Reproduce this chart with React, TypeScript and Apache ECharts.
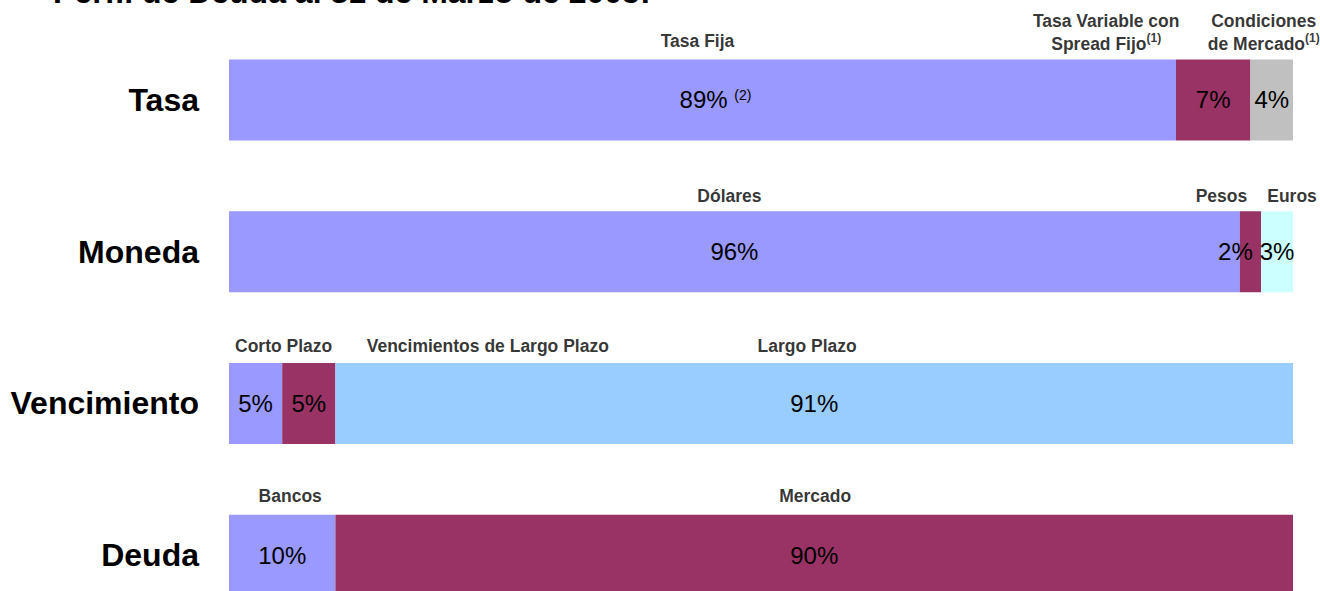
import React, { useEffect, useRef } from "react";
import * as echarts from "echarts";

const title = "Perfil de Deuda al 31 de Marzo de 2005:";
const categories = ["Tasa", "Moneda", "Vencimiento", "Deuda"];

const tasaNames = ["Tasa Fija", "Tasa Variable con\nSpread Fijo{sup|(1)}", "Condiciones\nde Mercado{sup|(1)}"];
const tasaValues = [89, 7, 4];
const tasaLabels = ["89% {psup|(2)}", "7%", "4%"];

const monedaNames = ["Dólares", "Pesos", "Euros"];
const monedaValues = [95, 2, 3];
const monedaLabels = ["96%", "2%", "3%"];

const vencNames = ["Corto Plazo", "Vencimientos de Largo Plazo", "Largo Plazo"];
const vencValues = [5, 5, 90];
const vencLabels = ["5%", "5%", "91%"];

const deudaNames = ["Bancos", "Mercado"];
const deudaValues = [10, 90];
const deudaLabels = ["10%", "90%"];

// styles
const BLUE = "#9999FF";
const PLUM = "#993366";
const rowStyles = [
  { colors: [BLUE, PLUM, "#C0C0C0"], nameDx: [-5, -107, -8], nameDy: [0, 3, 3], pctDx: [13, 0, 0] },
  { colors: [BLUE, PLUM, "#CCFFFF"], nameDx: [-5, -29, 15], nameDy: [3, 3, 3], pctDx: [0, -15, 0] },
  { colors: [BLUE, PLUM, "#99CCFF"], nameDx: [28, 179, -7], nameDy: [2, 2, 2], pctDx: [0, 0, 0] },
  { colors: [BLUE, PLUM], nameDx: [8, 1], nameDy: [0, 0], pctDx: [0, 0] },
];

const rows = [
  { names: tasaNames, values: tasaValues, labels: tasaLabels },
  { names: monedaNames, values: monedaValues, labels: monedaLabels },
  { names: vencNames, values: vencValues, labels: vencLabels },
  { names: deudaNames, values: deudaValues, labels: deudaLabels },
];

const FONT = "Liberation Sans, Arial, sans-serif";

export default function App() {
  const ref = useRef<HTMLDivElement>(null);
  useEffect(() => {
    if (!ref.current) return;
    const chart = echarts.init(ref.current, undefined, { renderer: "svg" });

    const barSeries: any[] = [0, 1, 2].map((i) => ({
      type: "bar",
      stack: "total",
      barWidth: 81,
      silent: true,
      data: rows.map((r, ri) => {
        if (r.values[i] == null) return "-";
        return {
          value: r.values[i],
          itemStyle: { color: rowStyles[ri].colors[i] },
          label: {
            show: true,
            position: "inside",
            formatter: r.labels[i],
            offset: [rowStyles[ri].pctDx[i], 0],
            color: "#000",
            fontSize: 24,
            fontFamily: FONT,
            rich: {
              psup: { fontSize: 14, color: "#000", fontFamily: FONT, verticalAlign: "top", padding: [0, 0, 10, 0] },
            },
          },
        };
      }),
    }));

    const nameData: any[] = [];
    rows.forEach((r, ri) => {
      let start = 0;
      r.values.forEach((v, i) => {
        nameData.push({
          value: [start + v / 2, categories[ri]],
          label: { formatter: r.names[i], offset: [rowStyles[ri].nameDx[i], rowStyles[ri].nameDy[i]] },
        });
        start += v;
      });
    });

    const scatter = {
      type: "scatter",
      symbolSize: 1,
      silent: true,
      itemStyle: { color: "rgba(0,0,0,0)" },
      data: nameData,
      label: {
        show: true,
        position: "top",
        distance: 47,
        color: "#000",
        fontSize: 17.5,
        fontWeight: "bold",
        fontFamily: FONT,
        lineHeight: 23,
        align: "center",
        rich: {
          sup: { fontSize: 12, fontWeight: "bold", color: "#000", fontFamily: FONT, verticalAlign: "top", lineHeight: 23, padding: [0, 0, 8, 0] },
        },
      },
    };

    chart.setOption({
      animation: false,
      grid: { left: 229, right: 27, top: 24, height: 607, containLabel: false },
      xAxis: { type: "value", min: 0, max: 100, show: false },
      yAxis: {
        type: "category",
        data: categories,
        inverse: true,
        axisLine: { show: false },
        axisTick: { show: false },
        splitLine: { show: false },
        axisLabel: { fontSize: 32, fontWeight: "bold", color: "#000", margin: 30, fontFamily: FONT },
      },
      graphic: [
        {
          type: "text",
          left: 53,
          top: -24,
          style: { text: title, fontSize: 32, fontWeight: "bold", fill: "#000", fontFamily: FONT },
        },
      ],
      series: [...barSeries, scatter],
    });
    return () => chart.dispose();
  }, []);
  return (
    <div
      ref={ref}
      style={{ position: "fixed", left: 0, top: 0, width: 1320, height: 660, background: "#fff" }}
    />
  );
}
